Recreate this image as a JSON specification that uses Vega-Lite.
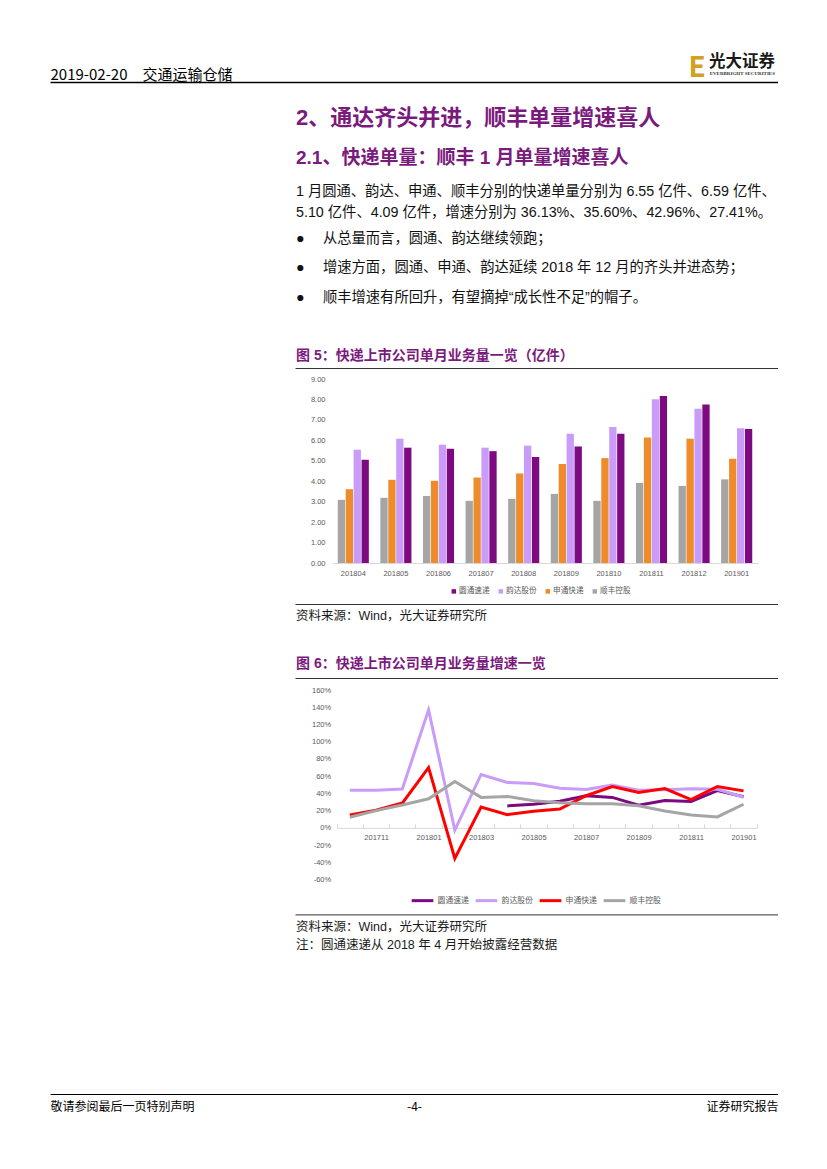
{
  "$schema": "https://vega.github.io/schema/vega-lite/v6.json",
  "background": "white",
  "padding": {"left": 50, "top": 0, "right": 0, "bottom": 0},
  "autosize": {"type": "pad"},
  "bounds": "flush",
  "spacing": 0,
  "resolve": {"scale": {"color": "independent", "x": "independent", "y": "independent"}, "legend": {"color": "independent"}},
  "config": {"view": {"stroke": null}, "font": "Liberation Sans, Noto Sans CJK SC"},
  "vconcat": [
    {
      "width": 728, "height": 82,
      "data": {"values": []},
      "mark": "point",
      "title": {"text": "光大证券", "subtitle": "EVERBRIGHT SECURITIES", "anchor": "end", "frame": "group", "orient": "top", "offset": -75.8, "dx": -3,
        "font": "Noto Sans CJK SC", "fontSize": 16.5, "fontWeight": "bold", "color": "#1a1a1a",
        "subtitleFont": "Liberation Serif", "subtitleFontSize": 5, "subtitleFontWeight": "bold", "subtitleColor": "#333333", "subtitlePadding": 0.5}
    },
    {
      "width": 728, "height": 86.2,
      "data": {"values": []},
      "mark": "point",
      "encoding": {
        "x": {"field": "v", "type": "quantitative", "scale": {"domain": [0, 1], "range": [0, 728]},
          "axis": {"orient": "top", "values": [0, 0.8764], "title": null, "grid": false, "ticks": false, "tickSize": 0, "minExtent": 0,
            "domain": true, "domainColor": "#000000", "domainWidth": 1.3, "labelPadding": 0, "labelOverlap": false, "labelFlush": false, "labelBound": false, "labelLimit": 0,
            "labelExpr": "datum.value == 0 ? '2019-02-20　交通运输仓储' : 'E'",
            "labelAlign": "left", "labelBaseline": "bottom",
            "labelFont": "Noto Sans CJK SC",
            "labelFontSize": {"condition": {"test": "datum.value == 0", "value": 15}, "value": 28},
            "labelColor": {"condition": {"test": "datum.value == 0", "value": "#000000"}, "value": "#D4A020"},
            "labelFontWeight": {"condition": {"test": "datum.value == 0", "value": "normal"}, "value": "bold"}}}
      }
    },
    {
      "width": 728, "height": 137.06,
      "data": {"values": []},
      "mark": "point",
      "title": {"text": "2、通达齐头并进，顺丰单量增速喜人", "subtitle": "2.1、快递单量：顺丰 1 月单量增速喜人", "anchor": "start", "frame": "group", "orient": "top", "offset": 0, "dx": 246,
        "font": "Liberation Sans, Noto Sans CJK SC", "fontSize": 22, "fontWeight": "bold", "color": "#7B1A7D",
        "subtitleFont": "Liberation Sans, Noto Sans CJK SC", "subtitleFontSize": 19, "subtitleFontWeight": "bold", "subtitleColor": "#7B1A7D", "subtitlePadding": 19.2}
    },
    {
      "width": 728, "height": 60.74,
      "data": {"values": []},
      "mark": "point",
      "title": {"text": ["1 月圆通、韵达、申通、顺丰分别的快递单量分别为 6.55 亿件、6.59 亿件、", "5.10 亿件、4.09 亿件，增速分别为 36.13%、35.60%、42.96%、27.41%。"],
        "subtitle": ["●　 从总量而言，圆通、韵达继续领跑；", "●　 增速方面，圆通、申通、韵达延续 2018 年 12 月的齐头并进态势；", "●　 顺丰增速有所回升，有望摘掉“成长性不足”的帽子。"],
        "anchor": "start", "frame": "group", "orient": "top", "offset": 2, "dx": 246,
        "font": "Liberation Sans, Noto Sans CJK SC", "fontSize": 14.3, "fontWeight": "normal", "color": "#111111", "lineHeight": 21,
        "subtitleFont": "Liberation Sans, Noto Sans CJK SC", "subtitleFontSize": 14.3, "subtitleFontWeight": "normal", "subtitleColor": "#111111", "subtitleLineHeight": 29.5, "subtitlePadding": 11.5}
    },
    {
      "width": 728, "height": 11,
      "data": {"values": []},
      "mark": "point",
      "encoding": {
        "x": {"field": "v", "type": "quantitative", "scale": {"domain": [0, 1], "range": [245, 728]},
          "axis": {"orient": "top", "title": null, "grid": false, "ticks": false, "labels": false, "domain": true, "domainColor": "#333333", "domainWidth": 1, "minExtent": 0, "maxExtent": 0}}
      },
      "title": {"text": "图 5：快递上市公司单月业务量一览（亿件）", "anchor": "start", "frame": "group", "orient": "top", "offset": 5, "dx": 246,
        "font": "Liberation Sans, Noto Sans CJK SC", "fontSize": 14, "fontWeight": "bold", "color": "#7B1A7D"}
    },
    {
      "width": 728, "height": 184,
      "data": {"values": [
        {"month": "201804", "company": "圆通速递", "value": 5.05}, {"month": "201804", "company": "韵达股份", "value": 5.54}, {"month": "201804", "company": "申通快递", "value": 3.61}, {"month": "201804", "company": "顺丰控股", "value": 3.09},
        {"month": "201805", "company": "圆通速递", "value": 5.64}, {"month": "201805", "company": "韵达股份", "value": 6.08}, {"month": "201805", "company": "申通快递", "value": 4.07}, {"month": "201805", "company": "顺丰控股", "value": 3.19},
        {"month": "201806", "company": "圆通速递", "value": 5.59}, {"month": "201806", "company": "韵达股份", "value": 5.78}, {"month": "201806", "company": "申通快递", "value": 4.02}, {"month": "201806", "company": "顺丰控股", "value": 3.28},
        {"month": "201807", "company": "圆通速递", "value": 5.47}, {"month": "201807", "company": "韵达股份", "value": 5.64}, {"month": "201807", "company": "申通快递", "value": 4.18}, {"month": "201807", "company": "顺丰控股", "value": 3.04},
        {"month": "201808", "company": "圆通速递", "value": 5.18}, {"month": "201808", "company": "韵达股份", "value": 5.74}, {"month": "201808", "company": "申通快递", "value": 4.38}, {"month": "201808", "company": "顺丰控股", "value": 3.14},
        {"month": "201809", "company": "圆通速递", "value": 5.70}, {"month": "201809", "company": "韵达股份", "value": 6.32}, {"month": "201809", "company": "申通快递", "value": 4.84}, {"month": "201809", "company": "顺丰控股", "value": 3.38},
        {"month": "201810", "company": "圆通速递", "value": 6.32}, {"month": "201810", "company": "韵达股份", "value": 6.65}, {"month": "201810", "company": "申通快递", "value": 5.13}, {"month": "201810", "company": "顺丰控股", "value": 3.04},
        {"month": "201811", "company": "圆通速递", "value": 8.17}, {"month": "201811", "company": "韵达股份", "value": 8.01}, {"month": "201811", "company": "申通快递", "value": 6.14}, {"month": "201811", "company": "顺丰控股", "value": 3.92},
        {"month": "201812", "company": "圆通速递", "value": 7.75}, {"month": "201812", "company": "韵达股份", "value": 7.55}, {"month": "201812", "company": "申通快递", "value": 6.08}, {"month": "201812", "company": "顺丰控股", "value": 3.77},
        {"month": "201901", "company": "圆通速递", "value": 6.55}, {"month": "201901", "company": "韵达股份", "value": 6.59}, {"month": "201901", "company": "申通快递", "value": 5.10}, {"month": "201901", "company": "顺丰控股", "value": 4.09}
      ]},
      "mark": {"type": "bar"},
      "encoding": {
        "x": {"field": "month", "type": "nominal", "scale": {"range": [282, 708], "paddingInner": 0.27, "paddingOuter": 0.135},
          "axis": {"orient": "bottom", "title": null, "grid": false, "ticks": false, "labelAngle": 0, "domain": true, "domainColor": "#D9D9D9", "domainWidth": 1,
            "labelPadding": 6.5, "labelFont": "Liberation Sans", "labelFontSize": 7.5, "labelColor": "#595959"}},
        "xOffset": {"field": "company", "type": "nominal", "sort": ["顺丰控股", "申通快递", "韵达股份", "圆通速递"], "scale": {"paddingInner": 0.08, "paddingOuter": 0}},
        "y": {"field": "value", "type": "quantitative", "scale": {"domain": [0, 9]},
          "axis": {"orient": "left", "offset": -282, "title": null, "grid": false, "ticks": false, "domain": false, "values": [0, 1, 2, 3, 4, 5, 6, 7, 8, 9], "format": ".2f",
            "labelPadding": 7, "labelFont": "Liberation Sans", "labelFontSize": 7.5, "labelColor": "#595959"}},
        "color": {"field": "company", "type": "nominal", "scale": {"domain": ["圆通速递", "韵达股份", "申通快递", "顺丰控股"], "range": ["#7D0A80", "#C89CF8", "#EE8B2B", "#A5A5A5"]},
          "legend": {"orient": "none", "legendX": 400, "legendY": 208.3, "direction": "horizontal", "title": null, "symbolType": "square", "symbolSize": 20, "symbolStrokeWidth": 0,
            "labelFont": "Noto Sans CJK SC", "labelFontSize": 7.6, "labelColor": "#595959", "labelOffset": 1.5, "columnPadding": 7, "padding": 0}}
      }
    },
    {
      "width": 728, "height": 41,
      "data": {"values": []},
      "mark": "point"
    },
    {
      "width": 728, "height": 74,
      "data": {"values": []},
      "mark": "point",
      "encoding": {
        "x": {"field": "v", "type": "quantitative", "scale": {"domain": [0, 1], "range": [245, 728]},
          "axis": {"orient": "top", "title": null, "grid": false, "ticks": false, "labels": false, "domain": true, "domainColor": "#333333", "domainWidth": 1, "minExtent": 0, "maxExtent": 0}}
      },
      "title": {"text": "资料来源：Wind，光大证券研究所", "anchor": "start", "frame": "group", "orient": "top", "offset": -18.4, "dx": 246,
        "font": "Liberation Sans, Noto Sans CJK SC", "fontSize": 12.5, "fontWeight": "normal", "color": "#1a1a1a"}
    },
    {
      "width": 728, "height": 12,
      "data": {"values": []},
      "mark": "point",
      "encoding": {
        "x": {"field": "v", "type": "quantitative", "scale": {"domain": [0, 1], "range": [245, 728]},
          "axis": {"orient": "top", "title": null, "grid": false, "ticks": false, "labels": false, "domain": true, "domainColor": "#333333", "domainWidth": 1, "minExtent": 0, "maxExtent": 0}}
      },
      "title": {"text": "图 6：快递上市公司单月业务量增速一览", "anchor": "start", "frame": "group", "orient": "top", "offset": 7, "dx": 246,
        "font": "Liberation Sans, Noto Sans CJK SC", "fontSize": 14, "fontWeight": "bold", "color": "#7B1A7D"}
    },
    {
      "width": 728, "height": 189.6,
      "data": {"values": [
        {"month": "201804", "series": "圆通速递", "rate": 0.255}, {"month": "201805", "series": "圆通速递", "rate": 0.275}, {"month": "201806", "series": "圆通速递", "rate": 0.309}, {"month": "201807", "series": "圆通速递", "rate": 0.372}, {"month": "201808", "series": "圆通速递", "rate": 0.354}, {"month": "201809", "series": "圆通速递", "rate": 0.263}, {"month": "201810", "series": "圆通速递", "rate": 0.318}, {"month": "201811", "series": "圆通速递", "rate": 0.307}, {"month": "201812", "series": "圆通速递", "rate": 0.433}, {"month": "201901", "series": "圆通速递", "rate": 0.3613},
        {"month": "201710", "series": "韵达股份", "rate": 0.437}, {"month": "201711", "series": "韵达股份", "rate": 0.437}, {"month": "201712", "series": "韵达股份", "rate": 0.452}, {"month": "201801", "series": "韵达股份", "rate": 1.37}, {"month": "201802", "series": "韵达股份", "rate": -0.025}, {"month": "201803", "series": "韵达股份", "rate": 0.62}, {"month": "201804", "series": "韵达股份", "rate": 0.527}, {"month": "201805", "series": "韵达股份", "rate": 0.515}, {"month": "201806", "series": "韵达股份", "rate": 0.461}, {"month": "201807", "series": "韵达股份", "rate": 0.446}, {"month": "201808", "series": "韵达股份", "rate": 0.496}, {"month": "201809", "series": "韵达股份", "rate": 0.437}, {"month": "201810", "series": "韵达股份", "rate": 0.442}, {"month": "201811", "series": "韵达股份", "rate": 0.453}, {"month": "201812", "series": "韵达股份", "rate": 0.449}, {"month": "201901", "series": "韵达股份", "rate": 0.356},
        {"month": "201710", "series": "申通快递", "rate": 0.15}, {"month": "201711", "series": "申通快递", "rate": 0.204}, {"month": "201712", "series": "申通快递", "rate": 0.288}, {"month": "201801", "series": "申通快递", "rate": 0.70}, {"month": "201802", "series": "申通快递", "rate": -0.355}, {"month": "201803", "series": "申通快递", "rate": 0.242}, {"month": "201804", "series": "申通快递", "rate": 0.154}, {"month": "201805", "series": "申通快递", "rate": 0.192}, {"month": "201806", "series": "申通快递", "rate": 0.219}, {"month": "201807", "series": "申通快递", "rate": 0.373}, {"month": "201808", "series": "申通快递", "rate": 0.48}, {"month": "201809", "series": "申通快递", "rate": 0.412}, {"month": "201810", "series": "申通快递", "rate": 0.457}, {"month": "201811", "series": "申通快递", "rate": 0.327}, {"month": "201812", "series": "申通快递", "rate": 0.48}, {"month": "201901", "series": "申通快递", "rate": 0.4296},
        {"month": "201710", "series": "顺丰控股", "rate": 0.123}, {"month": "201711", "series": "顺丰控股", "rate": 0.2}, {"month": "201712", "series": "顺丰控股", "rate": 0.265}, {"month": "201801", "series": "顺丰控股", "rate": 0.338}, {"month": "201802", "series": "顺丰控股", "rate": 0.538}, {"month": "201803", "series": "顺丰控股", "rate": 0.354}, {"month": "201804", "series": "顺丰控股", "rate": 0.365}, {"month": "201805", "series": "顺丰控股", "rate": 0.315}, {"month": "201806", "series": "顺丰控股", "rate": 0.292}, {"month": "201807", "series": "顺丰控股", "rate": 0.28}, {"month": "201808", "series": "顺丰控股", "rate": 0.28}, {"month": "201809", "series": "顺丰控股", "rate": 0.257}, {"month": "201810", "series": "顺丰控股", "rate": 0.196}, {"month": "201811", "series": "顺丰控股", "rate": 0.15}, {"month": "201812", "series": "顺丰控股", "rate": 0.127}, {"month": "201901", "series": "顺丰控股", "rate": 0.2741}
      ]},
      "mark": {"type": "line", "strokeWidth": 3},
      "encoding": {
        "x": {"field": "month", "type": "nominal", "bandPosition": 0.5,
          "scale": {"type": "band", "domain": ["201710", "201711", "201712", "201801", "201802", "201803", "201804", "201805", "201806", "201807", "201808", "201809", "201810", "201811", "201812", "201901"], "range": [286.7, 706.7], "paddingInner": 0, "paddingOuter": 0},
          "axis": {"orient": "bottom", "offset": -51.7, "title": null, "grid": false, "ticks": true, "tickBand": "extent", "tickSize": -4, "tickColor": "#D9D9D9", "tickWidth": 1,
            "domain": true, "domainColor": "#D9D9D9", "domainWidth": 1, "labelAngle": 0,
            "labelExpr": "indexof(['201711','201801','201803','201805','201807','201809','201811','201901'], datum.value) >= 0 ? datum.label : ''",
            "labelPadding": 9.3, "labelFont": "Liberation Sans", "labelFontSize": 7.5, "labelColor": "#595959"}},
        "y": {"field": "rate", "type": "quantitative", "scale": {"domain": [-0.6, 1.6]},
          "axis": {"orient": "left", "offset": -286.7, "title": null, "grid": false, "ticks": false, "domain": false,
            "values": [-0.6, -0.4, -0.2, 0, 0.2, 0.4, 0.6, 0.8, 1.0, 1.2, 1.4, 1.6],
            "labelExpr": "replace(format(datum.value, '.0%'), '−', '-')",
            "labelPadding": 6, "labelFont": "Liberation Sans", "labelFontSize": 7.5, "labelColor": "#595959"}},
        "color": {"field": "series", "type": "nominal", "scale": {"domain": ["圆通速递", "韵达股份", "申通快递", "顺丰控股"], "range": ["#7A0A7E", "#C99DF7", "#FF0000", "#A5A5A5"]},
          "legend": {"orient": "none", "legendX": 360, "legendY": 197.9, "direction": "horizontal", "title": null, "symbolType": "stroke", "symbolSize": 470, "symbolStrokeWidth": 3,
            "labelFont": "Noto Sans CJK SC", "labelFontSize": 7.8, "labelColor": "#595959", "labelOffset": 2.6, "columnPadding": 0, "padding": 0}}
      }
    },
    {
      "width": 728, "height": 34.4,
      "data": {"values": []},
      "mark": "point",
      "encoding": {
        "x": {"field": "v", "type": "quantitative", "scale": {"domain": [0, 1], "range": [245, 728]},
          "axis": {"orient": "bottom", "title": null, "grid": false, "ticks": false, "labels": false, "domain": true, "domainColor": "#333333", "domainWidth": 1, "minExtent": 0, "maxExtent": 0}}
      }
    },
    {
      "width": 728, "height": 179,
      "data": {"values": []},
      "mark": "point",
      "encoding": {
        "x": {"field": "v", "type": "quantitative", "scale": {"domain": [0, 1], "range": [0, 728]},
          "axis": {"orient": "bottom", "values": [0, 0.5, 1], "title": null, "grid": false, "ticks": false, "tickSize": 0, "domain": true, "domainColor": "#000000", "domainWidth": 1.2,
            "labelFlush": true, "labelOverlap": false, "labelBound": false, "labelPadding": 7.4, "labelLimit": 0,
            "labelExpr": "datum.value == 0 ? '敬请参阅最后一页特别声明' : datum.value == 1 ? '证券研究报告' : '-4-'",
            "labelFont": "Noto Sans CJK SC", "labelFontSize": 12, "labelColor": "#000000"}}
      },
      "title": {"text": "资料来源：Wind，光大证券研究所", "subtitle": "注：圆通速递从 2018 年 4 月开始披露经营数据", "anchor": "start", "frame": "group", "orient": "top", "offset": -36.7, "dx": 246,
        "font": "Liberation Sans, Noto Sans CJK SC", "fontSize": 12.5, "fontWeight": "normal", "color": "#1a1a1a",
        "subtitleFont": "Liberation Sans, Noto Sans CJK SC", "subtitleFontSize": 12.5, "subtitleFontWeight": "normal", "subtitleColor": "#1a1a1a", "subtitlePadding": 6.1}
    }
  ]
}
